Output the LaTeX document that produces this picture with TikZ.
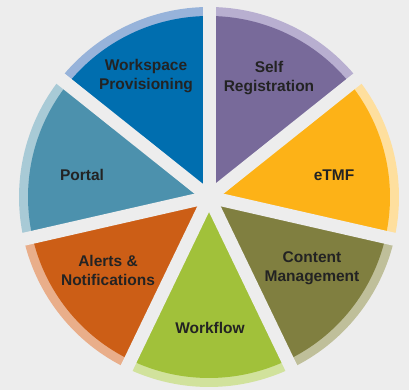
\documentclass[tikz,border=0pt]{standalone}
\usepackage{fontspec}
\setmainfont{Liberation Sans}
\usepackage{tikz}
\usetikzlibrary{positioning}
\definecolor{pagegray}{RGB}{237,237,237}
\definecolor{textdark}{RGB}{35,35,35}
\definecolor{selfpurple}{RGB}{120,106,154}
\definecolor{selfrim}{RGB}{184,175,208}
\definecolor{etmfamber}{RGB}{253,178,23}
\definecolor{etmfrim}{RGB}{254,223,158}
\definecolor{contentolive}{RGB}{128,127,64}
\definecolor{contentrim}{RGB}{191,191,154}
\definecolor{flowgreen}{RGB}{161,193,58}
\definecolor{flowrim}{RGB}{209,226,156}
\definecolor{alertorange}{RGB}{204,94,22}
\definecolor{alertrim}{RGB}{233,174,138}
\definecolor{portalteal}{RGB}{76,145,173}
\definecolor{portalrim}{RGB}{168,202,214}
\definecolor{spaceblue}{RGB}{0,110,175}
\definecolor{spacerim}{RGB}{151,179,218}

\begin{document}
\begin{tikzpicture}[
    x=1pt, y=1pt,
    seglabel/.style={align=center, text=textdark, inner sep=0pt,
                     font=\fontsize{15.5}{19}\selectfont\bfseries},
    gapline/.style={draw=pagegray, line width=13pt},
]
\fill[pagegray] (-209,-193) rectangle (200,197);
\useasboundingbox (-209,-193) rectangle (200,197);

% wedges, clockwise from the top
\foreach \k/\dark/\light in {0/selfpurple/selfrim, 1/etmfamber/etmfrim,
    2/contentolive/contentrim, 3/flowgreen/flowrim, 4/alertorange/alertrim,
    5/portalteal/portalrim, 6/spaceblue/spacerim} {
  \pgfmathsetmacro{\angA}{90-\k*360/7}
  \pgfmathsetmacro{\angB}{90-(\k+1)*360/7}
  \fill[\light] (0,0) -- (\angA:190) arc[start angle=\angA, end angle=\angB, radius=190] -- cycle;
  \fill[\dark] (0,0) -- (\angA:181) arc[start angle=\angA, end angle=\angB, radius=181] -- cycle;
}

% gaps between the wedges
\foreach \k in {0,...,6}
  \draw[gapline] (0,0) -- ({90-\k*360/7}:200);

\node[seglabel] (selfreg) at (60,119) {Self\\Registration};
\node[seglabel] (etmf) at (125,22) {eTMF};
\node[seglabel] (content) at (103,-71) {Content\\Management};
\node[seglabel] (workflow) at (1,-131) {Workflow};
\node[seglabel] (alerts) at (-101,-73) {Alerts \&\\Notifications};
\node[seglabel] (portal) at (-127,22) {Portal};
\node[seglabel] (workspace) at (-63,121) {Workspace\\Provisioning};
\end{tikzpicture}
\end{document}
